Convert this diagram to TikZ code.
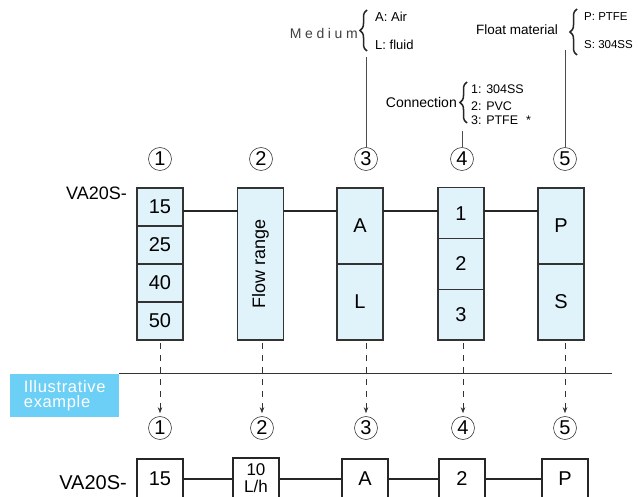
\documentclass[tikz,border=0pt]{standalone}
\usepackage{fontspec}
\setmainfont{Liberation Sans}
\usepackage{tikz}
\usetikzlibrary{positioning,arrows.meta,decorations.pathreplacing}
\definecolor{cellblue}{HTML}{E0F2FA}
\definecolor{tagblue}{HTML}{6CCFF6}

\begin{document}
\begin{tikzpicture}[x=1pt, y=-1pt,
        cell/.style={draw=black!80, line width=1.1pt, fill=cellblue, minimum width=46pt, inner sep=0pt, outer sep=0pt, font=\fontsize{20}{20}\selectfont},
        plain/.style={draw=black!85, line width=1.1pt, fill=white, minimum width=46pt, minimum height=40pt, inner sep=0pt, outer sep=0pt, font=\fontsize{20}{20}\selectfont},
        num/.style={circle, draw=black!75, line width=0.6pt, minimum size=23pt, inner sep=0pt, font=\fontsize{20}{20}\selectfont},
        link/.style={line width=2pt, black!85},
        lead/.style={line width=0.9pt, black!70},
        drop/.style={line width=0.7pt, black!80, dash pattern=on 6pt off 6pt, -{Stealth[length=6pt, width=4.5pt]}},
        curly/.style={decorate, decoration={brace, amplitude=7pt}, line width=1.5pt, black!85},
        pick/.style={anchor=west, inner sep=0pt, font=\fontsize{12.5}{12.5}\selectfont}]
        \useasboundingbox[fill=white] (0,0) rectangle (638,497);

        \node[anchor=east, inner sep=0pt, font=\fontsize{18}{18}\selectfont] (code) at (127,193) {VA20S-};
        \node[cell, minimum height=38pt] (c1a) at (160,207) {15};
        \node[cell, minimum height=38pt, below=0pt of c1a] (c1b) {25};
        \node[cell, minimum height=38pt, below=0pt of c1b] (c1c) {40};
        \node[cell, minimum height=38pt, below=0pt of c1c] (c1d) {50};
        \node[cell, minimum height=152pt, font=\fontsize{18}{18}\selectfont] (flow) at (260.5,264) {\rotatebox{90}{Flow range}};
        \node[cell, minimum height=76pt] (a3a) at (360,226) {A};
        \node[cell, minimum height=76pt, below=0pt of a3a] (a3b) {L};
        \node[cell, minimum height=50.7pt] (c4a) at (461,213.3) {1};
        \node[cell, minimum height=50.7pt, below=0pt of c4a] (c4b) {2};
        \node[cell, minimum height=50.7pt, below=0pt of c4b] (c4c) {3};
        \node[cell, minimum height=76pt] (p5a) at (561,226) {P};
        \node[cell, minimum height=76pt, below=0pt of p5a] (p5b) {S};

        \coordinate (rail) at (0,211);
        \draw[link] (c1a.east |- rail) -- (flow.west |- rail);
        \draw[link] (flow.east |- rail) -- (a3a.west |- rail);
        \draw[link] (a3a.east |- rail) -- (c4a.west |- rail);
        \draw[link] (c4a.east |- rail) -- (p5a.west |- rail);

        \node[num] (n1) at (160,159) {1};
        \node[num] (n2) at (261,159) {2};
        \node[num] (n3) at (366,159) {3};
        \node[num] (n4) at (462,159) {4};
        \node[num] (n5) at (565,159) {5};

        \node[anchor=east, inner sep=0pt, black!75, font=\fontsize{14}{14}\selectfont\addfontfeature{LetterSpace=26}] (medium) at (358,33) {Medium};
        \draw[curly] (367,51) -- (367,10);
        \node[pick, font=\fontsize{13}{13}\selectfont] (air) at (375,17) {A: Air};
        \node[pick, font=\fontsize{13}{13}\selectfont] (fluid) at (375,45) {L: fluid};
        \coordinate (medtail) at (366,57);
        \draw[lead] (n3) -- (medtail);

        \node[anchor=east, inner sep=0pt, font=\fontsize{14}{14}\selectfont] (conn) at (457,102) {Connection};
        \draw[curly] (467,123) -- (467,82);
        \node[pick] (ss) at (471,89) {1: 304SS};
        \node[pick] (pvc) at (471,106) {2: PVC};
        \node[pick] (ptfe) at (471,120) {3: PTFE\hspace{8pt}*};
        \coordinate (contail) at (462,131);
        \draw[lead] (n4) -- (contail);

        \node[anchor=east, inner sep=0pt, font=\fontsize{13.5}{13.5}\selectfont] (float) at (558,30) {Float material};
        \draw[curly] (577,55) -- (577,9);
        \node[pick, font=\fontsize{11.5}{11.5}\selectfont] (fp) at (584,17) {P: PTFE};
        \node[pick, font=\fontsize{11.5}{11.5}\selectfont] (fs) at (584,45) {S: 304SS};
        \coordinate (flotail) at (565,50);
        \draw[lead] (n5) -- (flotail);

        \node[fill=tagblue, anchor=north west, minimum width=109pt, minimum height=43pt, inner sep=0pt, align=left, text=white, font=\fontsize{16.5}{15.5}\selectfont\addfontfeature{LetterSpace=4}] (tag) at (10,374) {Illustrative\\example};
        \coordinate (sepend) at (612,374);
        \draw[line width=1pt, black!80] (tag.north east) -- (sepend);

        \node[num] (m1) at (160,428) {1};
        \node[num] (m2) at (262,428) {2};
        \node[num] (m3) at (366,428) {3};
        \node[num] (m4) at (463,428) {4};
        \node[num] (m5) at (565,428) {5};

        \draw[drop, shorten <=3pt, shorten >=3pt] (c1d.south -| m1) -- (m1);
        \draw[drop, shorten <=3pt, shorten >=3pt] (flow.south -| m2) -- (m2);
        \draw[drop, shorten <=3pt, shorten >=3pt] (a3b.south -| m3) -- (m3);
        \draw[drop, shorten <=3pt, shorten >=3pt] (c4c.south -| m4) -- (m4);
        \draw[drop, shorten <=3pt, shorten >=3pt] (p5b.south -| m5) -- (m5);

        \node[anchor=east, inner sep=0pt, font=\fontsize{20}{20}\selectfont] (code2) at (127,483) {VA20S-};
        \node[plain] (b1) at (160,479) {15};
        \node[plain, align=center, font=\fontsize{17}{17}\selectfont] (b2) at (256,478) {10\\L/h};
        \node[plain] (b3) at (365,479) {A};
        \node[plain] (b4) at (462,479) {2};
        \node[plain] (b5) at (565,479) {P};
        \draw[link] (b1) -- (b3.west -| b2.west);
        \draw[link] (b2.east |- b3) -- (b3);
        \draw[link] (b3) -- (b4);
        \draw[link] (b4) -- (b5);
\end{tikzpicture}
\end{document}
